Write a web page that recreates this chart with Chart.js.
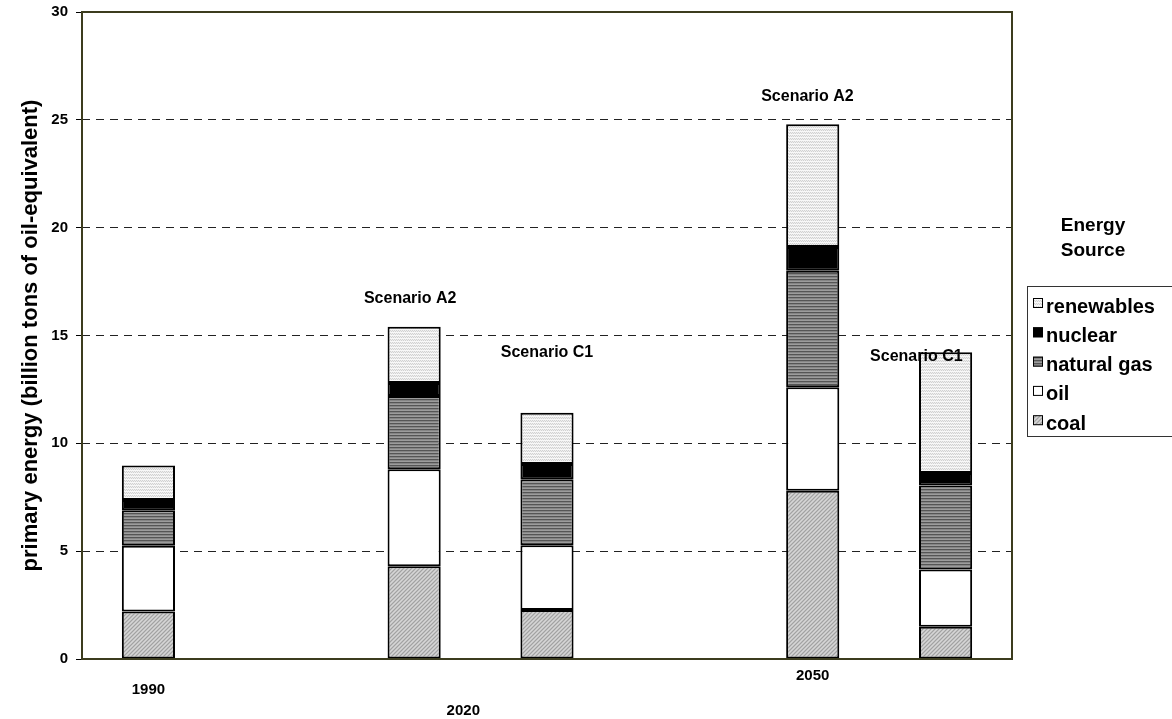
<!DOCTYPE html>
<html>
<head>
<meta charset="utf-8">
<script src="https://cdn.jsdelivr.net/npm/chart.js@4/dist/chart.umd.min.js"></script>
<style>
  html, body { margin: 0; padding: 0; background: #fff; }
  #wrap { width: 1172px; height: 719px; }
</style>
</head>
<body>
<div id="wrap"><canvas id="myChart" width="1172" height="719"></canvas></div>
<script>
// 7 slots: two empty ones keep the gaps between the years
const slots = ["1990", "", "2020 A2", "2020 C1", "", "2050 A2", "2050 C1"];
const coal       = [2.2,  null, 4.3, 2.27, null, 7.8, 1.5];
const oil        = [3.05, null, 4.5, 3.0,  null, 4.8, 2.65];
const naturalGas = [1.65, null, 3.4, 3.07, null, 5.4, 3.9];
const nuclear    = [0.47, null, 0.6, 0.7,  null, 1.1, 0.57];
const renewables = [1.6,  null, 2.6, 2.38, null, 5.7, 5.6];
const sourceNames = ["coal", "oil", "natural gas", "nuclear", "renewables"];

const yearLabels = ["1990", "2020", "2050"];
const scenarioLabels = ["Scenario A2", "Scenario C1", "Scenario A2", "Scenario C1"];

const FONT = "'Liberation Sans', Arial, sans-serif";
const ink = "#000";
const frame = "#3c3c1e";

function makePattern(w, h, draw) {
    const c = document.createElement("canvas");
    c.width = w; c.height = h;
    const g = c.getContext("2d");
    draw(g);
    return document.getElementById("myChart").getContext("2d").createPattern(c, "repeat");
}

const coalFill = makePattern(4, 4, g => {
    g.fillStyle = "#c2c2c2"; g.fillRect(0, 0, 4, 4);
    for (let i = 0; i < 4; i++) {
        g.fillStyle = "#a2a2a2"; g.fillRect(i, 3 - i, 1, 1);
        g.fillStyle = "#d6d6d6"; g.fillRect(i, (5 - i) % 4, 1, 1);
    }
});
const gasFill = makePattern(1, 3, g => {
    g.fillStyle = "#555555"; g.fillRect(0, 0, 1, 1);
    g.fillStyle = "#858585"; g.fillRect(0, 1, 1, 1);
    g.fillStyle = "#9c9c9c"; g.fillRect(0, 2, 1, 1);
});
const renewFill = makePattern(2, 3, g => {
    g.fillStyle = "#d2d2d2"; g.fillRect(0, 0, 2, 2);
    g.fillStyle = "#efefef"; g.fillRect(1, 0, 1, 1); g.fillRect(0, 1, 1, 1);
    g.fillStyle = "#f8f8f8"; g.fillRect(0, 2, 2, 1);
});
const fills = [coalFill, "#ffffff", gasFill, "#000000", renewFill];
const series = [coal, oil, naturalGas, nuclear, renewables];

// where the free text sits (category index, offset below axis / y value)
const yearPos = [[0, 31], [2.37, 52], [5, 17]];
const scenarioPos = [[1.97, 16.7], [3, 14.2], [4.96, 26.1], [5.78, 14.0]];

const textPlugin = {
    id: "texts",
    afterDatasetsDraw(chart) {
        const {ctx, chartArea: a, scales: {x, y}} = chart;
        ctx.save();
        ctx.strokeStyle = frame;
        ctx.lineWidth = 2;
        ctx.strokeRect(a.left, a.top, a.right - a.left, a.bottom - a.top);

        ctx.fillStyle = ink;
        ctx.textAlign = "center";
        ctx.textBaseline = "middle";
        ctx.font = "bold 15px " + FONT;
        yearLabels.forEach((t, i) => {
            ctx.fillText(t, x.getPixelForValue(yearPos[i][0]), a.bottom + yearPos[i][1]);
        });
        ctx.font = "bold 16px " + FONT;
        scenarioLabels.forEach((t, i) => {
            ctx.fillText(t, x.getPixelForValue(scenarioPos[i][0]), y.getPixelForValue(scenarioPos[i][1]));
        });

        // legend
        ctx.font = "bold 19px " + FONT;
        ctx.fillText("Energy", 1093, 226);
        ctx.fillText("Source", 1093, 251);
        ctx.strokeStyle = "#333";
        ctx.lineWidth = 1;
        ctx.strokeRect(1027.5, 286.5, 150, 150);
        ctx.textAlign = "left";
        ctx.font = "bold 20px " + FONT;
        for (let k = 0; k < 5; k++) {
            const i = 4 - k;
            const yy = 306 + k * 29.3;
            ctx.fillStyle = fills[i];
            ctx.fillRect(1033, yy - 8, 10, 10);
            ctx.strokeStyle = "#000";
            ctx.strokeRect(1033.5, yy - 7.5, 9, 9);
            ctx.fillStyle = ink;
            ctx.fillText(sourceNames[i], 1046, yy + 1);
        }
        ctx.restore();
    }
};

let myChart = new Chart("myChart", {
    type: "bar",
    data: {
        labels: slots,
        datasets: []
    },
    options: {
        responsive: false,
        animation: false,
        layout: {padding: {top: 12, right: 160, bottom: 60, left: 0}},
        plugins: {legend: {display: false}, tooltip: {enabled: false}},
        scales: {
            x: {
                display: false,
                stacked: true
            },
            y: {
                stacked: true,
                min: 0,
                max: 30,
                afterFit: s => { s.width = 82; s.paddingTop = 0; s.paddingBottom = 0; },
                border: {display: false, dash: [8, 6]},
                grid: {
                    color: c => (c.tick && (c.tick.value === 0 || c.tick.value === 30)) ? "rgba(0,0,0,0)" : "#222",
                    tickColor: "#000",
                    tickBorderDash: [1, 0],
                    tickLength: 6,
                    lineWidth: 1
                },
                ticks: {
                    stepSize: 5,
                    padding: 8,
                    color: ink,
                    font: {family: FONT, size: 15, weight: "bold"}
                },
                title: {
                    display: true,
                    text: "primary energy (billion tons of oil-equivalent)",
                    color: ink,
                    padding: {top: 18, bottom: 0},
                    font: {family: FONT, size: 22, weight: "bold"}
                }
            }
        }
    },
    plugins: [textPlugin]
});

//Add Datasets
for (let i = 0; i < series.length; i++) {
    myChart.data.datasets.push({
        label: sourceNames[i],
        data: series[i],
        backgroundColor: fills[i],
        borderColor: "#000",
        borderWidth: 2,
        borderSkipped: false,
        categoryPercentage: 1,
        barPercentage: 0.4
    });
}
myChart.update();
</script>
</body>
</html>
